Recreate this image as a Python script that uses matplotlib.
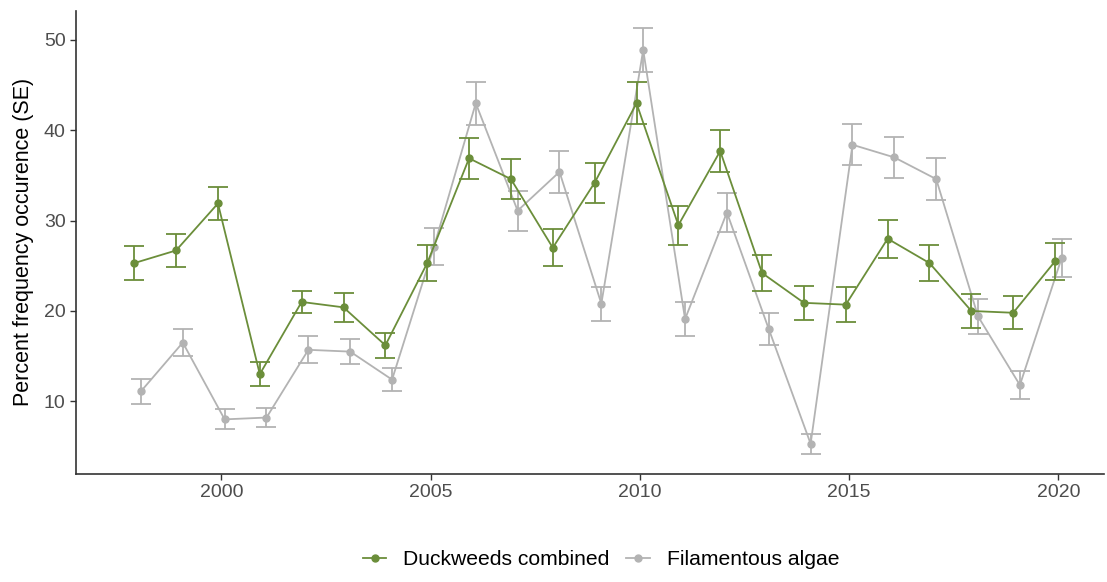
import numpy as np
import matplotlib
matplotlib.use('Agg')
import matplotlib.pyplot as plt

plt.rcParams['font.family'] = ['Liberation Sans', 'DejaVu Sans']

years = np.arange(1998, 2021)

duckweed = [25.3, 26.7, 31.9, 13.0, 21.0, 20.4, 16.2, 25.3, 36.9, 34.6, 27.0, 34.2,
            43.0, 29.5, 37.7, 24.2, 20.9, 20.7, 28.0, 25.3, 20.0, 19.8, 25.5]
duckweed_se = [1.85, 1.8, 1.8, 1.3, 1.2, 1.6, 1.4, 2.0, 2.3, 2.2, 2.05, 2.2,
               2.35, 2.15, 2.3, 2.0, 1.9, 1.9, 2.1, 2.0, 1.9, 1.85, 2.05]

algae = [11.1, 16.5, 8.0, 8.2, 15.7, 15.5, 12.4, 27.1, 43.0, 31.1, 35.4, 20.8,
         48.9, 19.1, 30.9, 18.0, 5.3, 38.4, 37.0, 34.6, 19.4, 11.8, 25.9]
algae_se = [1.4, 1.5, 1.1, 1.1, 1.5, 1.4, 1.3, 2.05, 2.4, 2.2, 2.3, 1.9,
            2.4, 1.9, 2.2, 1.8, 1.1, 2.25, 2.3, 2.3, 1.9, 1.5, 2.1]

green = '#6b8e3a'
grey = '#b3b3b3'
dodge = 0.08

fig = plt.figure(figsize=(11.07, 5.82), dpi=100)
ax = fig.add_axes([0.0687, 0.186, 0.929, 0.795])

ax.errorbar(years - dodge, duckweed, yerr=duckweed_se, color=green, marker='o',
            markersize=5, linewidth=1.3, elinewidth=1.3, capsize=7.5, capthick=1.3,
            label='Duckweeds combined', zorder=3)
ax.errorbar(years + dodge, algae, yerr=algae_se, color=grey, marker='o',
            markersize=5, linewidth=1.3, elinewidth=1.3, capsize=7.5, capthick=1.3,
            label='Filamentous algae', zorder=2)

ax.set_xlim(1996.53, 2021.1)
ax.set_ylim(1.98, 53.2)
ax.set_xticks([2000, 2005, 2010, 2015, 2020])
ax.set_yticks([10, 20, 30, 40, 50])
ax.tick_params(axis='both', labelsize=14, labelcolor='#4d4d4d', color='#333333',
               length=4, width=1)
ax.set_ylabel('Percent frequency occurence (SE)', fontsize=15.5, color='black', labelpad=7)

for side in ['top', 'right']:
    ax.spines[side].set_visible(False)
for side in ['left', 'bottom']:
    ax.spines[side].set_color('#333333')
    ax.spines[side].set_linewidth(1.2)

handles, labels = ax.get_legend_handles_labels()
handles = [h[0] for h in handles]
fig.legend(handles, labels, loc='center', bbox_to_anchor=(0.543, 0.038), ncol=2,
           frameon=False, fontsize=15.2, handlelength=1.1, handletextpad=0.8,
           columnspacing=0.8)

fig.savefig('out.png', dpi=100)
